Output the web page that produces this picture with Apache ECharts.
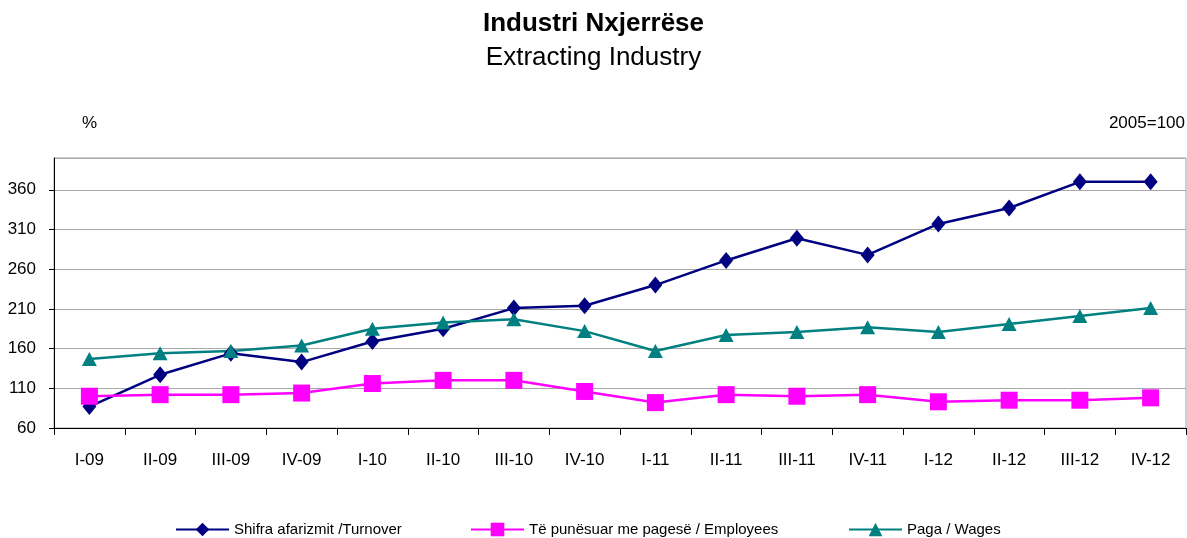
<!DOCTYPE html>
<html>
<head>
<meta charset="utf-8">
<title>Industri Nxjerrëse</title>
<script src="https://cdn.jsdelivr.net/npm/echarts@6/dist/echarts.min.js"></script>
<style>
  html, body { margin: 0; padding: 0; background: #fff; }
  #chart { width: 1187px; height: 538px; }
</style>
</head>
<body>
<div id="chart"></div>
<script>
// kategorite (tremujoret)
const categories = ["I-09", "II-09", "III-09", "IV-09", "I-10", "II-10", "III-10", "IV-10",
  "I-11", "II-11", "III-11", "IV-11", "I-12", "II-12", "III-12", "IV-12"];

// Shifra afarizmit / Turnover
const turnover = [87, 127, 154, 143, 169, 185, 211, 214, 240, 271, 299, 278, 317, 337, 370, 370];
// Te punesuar me pagese / Employees
const employees = [100, 102, 102, 104, 116, 120, 120, 106, 92, 102, 100, 102, 93, 95, 95, 98];
// Paga / Wages
const wages = [147, 154, 157, 164, 185, 193, 197, 182, 157, 177, 181, 187, 181, 191, 201, 211];

const seriesNames = ["Shifra afarizmit /Turnover", "Të punësuar me pagesë / Employees", "Paga / Wages"];

const font = "'Liberation Sans', Arial, sans-serif";

const chart = echarts.init(document.getElementById("chart"));

// legjenda: nje per cdo seri, te vendosura si ne origjinal
function legendAt(name, left) {
  return {
    data: [name],
    left: left,
    top: 517,
    itemWidth: 53,
    itemHeight: 17,
    itemGap: 4,
    textStyle: { fontSize: 15, color: "#000", fontFamily: font },
  };
}

chart.setOption({
  backgroundColor: "#fff",
  animation: false,
  textStyle: { fontFamily: font },
  title: [
    {
      text: "Industri Nxjerrëse",
      left: "center",
      top: 6,
      textStyle: { fontSize: 26, fontWeight: "bold", color: "#000", fontFamily: font },
    },
    {
      text: "Extracting Industry",
      left: "center",
      top: 40,
      textStyle: { fontSize: 26, fontWeight: "normal", color: "#000", fontFamily: font },
    },
  ],
  graphic: [
    {
      type: "text",
      left: 82,
      top: 115,
      style: { text: "%", fontSize: 17, fill: "#000", fontFamily: font },
    },
    {
      type: "text",
      right: 2,
      top: 115,
      style: { text: "2005=100", fontSize: 17, fill: "#000", fontFamily: font },
    },
  ],
  legend: [
    legendAt(seriesNames[0], 170),
    legendAt(seriesNames[1], 465),
    legendAt(seriesNames[2], 843),
  ],
  grid: {
    left: 54,
    right: 1,
    top: 158,
    bottom: 110,
    show: true,
    borderColor: "#a0a0a0",
    borderWidth: 1,
  },
  xAxis: {
    type: "category",
    data: categories,
    boundaryGap: true,
    axisLine: { show: true, lineStyle: { color: "#000", width: 1 } },
    axisTick: { show: true, length: 7, lineStyle: { color: "#000" } },
    axisLabel: { color: "#000", fontSize: 17, margin: 24, fontFamily: font },
    splitLine: { show: false },
  },
  yAxis: {
    type: "value",
    min: 60,
    max: 400,
    interval: 50,
    axisLine: { show: true, lineStyle: { color: "#000", width: 1 } },
    axisTick: { show: true, length: 5, lineStyle: { color: "#000" } },
    axisLabel: { color: "#000", fontSize: 17, margin: 18, showMaxLabel: false, fontFamily: font },
    splitLine: { show: true, lineStyle: { color: "#a8a8a8", width: 1 } },
  },
  series: [
    {
      name: seriesNames[0],
      type: "line",
      data: turnover,
      symbol: "diamond",
      symbolSize: [14, 17],
      lineStyle: { color: "#000080", width: 2.5 },
      itemStyle: { color: "#000080" },
    },
    {
      name: seriesNames[1],
      type: "line",
      data: employees,
      symbol: "rect",
      symbolSize: 17,
      lineStyle: { color: "#ff00ff", width: 2.5 },
      itemStyle: { color: "#ff00ff" },
    },
    {
      name: seriesNames[2],
      type: "line",
      data: wages,
      symbol: "triangle",
      symbolSize: [15, 14],
      lineStyle: { color: "#008080", width: 2.5 },
      itemStyle: { color: "#008080" },
    },
  ],
});
</script>
</body>
</html>
